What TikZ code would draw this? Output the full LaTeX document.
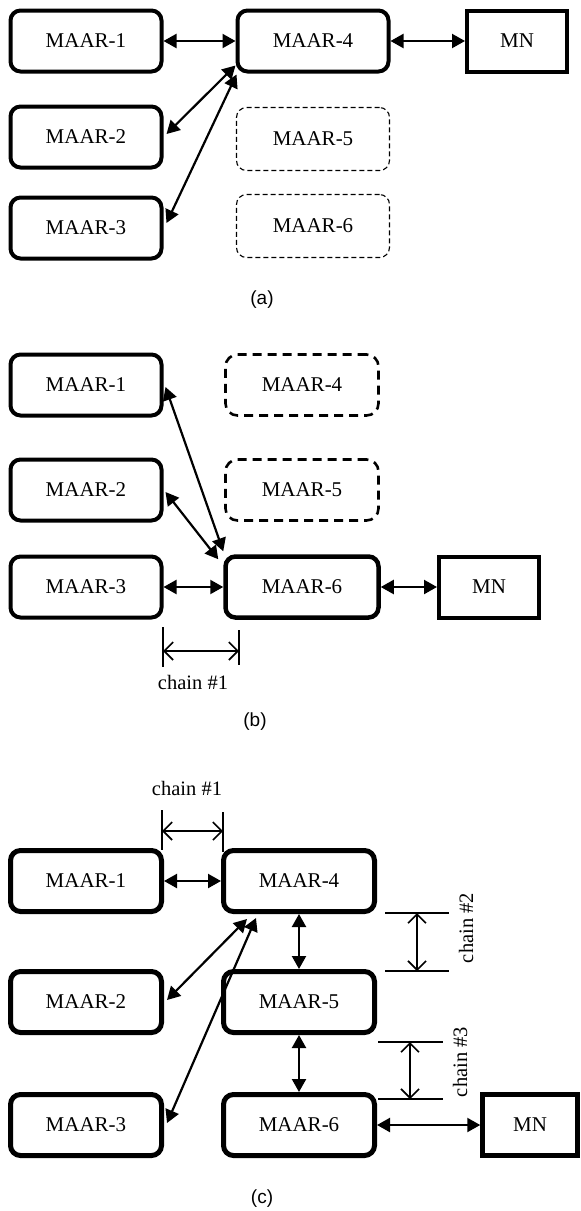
\documentclass[tikz,border=0pt]{standalone}
\usepackage{fontspec}
\setmainfont{Liberation Serif}
\newfontfamily\capfont{Liberation Sans}
\usetikzlibrary{arrows.meta,calc}
\begin{document}
\begin{tikzpicture}[x=1pt,y=-1pt,
  lbl/.style={font=\fontsize{21}{24}\selectfont},
  box/.style={draw, line width=4pt, rounded corners=10pt, minimum width=151pt, minimum height=61pt, inner sep=0pt, lbl},
  thickbox/.style={box, line width=5pt},
  thinbox/.style={draw, line width=1.1pt, dash pattern=on 5pt off 3pt, rounded corners=10pt, minimum width=153pt, minimum height=63pt, inner sep=0pt, lbl},
  dbox/.style={draw, line width=2.6pt, dash pattern=on 9pt off 6pt, rounded corners=12pt, minimum width=153pt, minimum height=61pt, inner sep=0pt, lbl},
  mnbox/.style={draw, line width=4pt, minimum width=100pt, minimum height=61pt, inner sep=0pt, lbl},
  link/.style={line width=2.2pt, {Triangle[length=13pt,width=14pt]}-{Triangle[length=13pt,width=14pt]}},
  dimline/.style={line width=2pt},
  dimarrow/.style={line width=1.6pt, {Straight Barb[length=9pt,width=18pt,line width=1.6pt]}-{Straight Barb[length=9pt,width=18pt,line width=1.6pt]}},
  chainlbl/.style={font=\fontsize{20.5}{23}\selectfont},
  captxt/.style={font=\capfont\fontsize{19}{22}\selectfont}
]
\useasboundingbox (0,0) rectangle (581,1211);

% ---------------- (a) ----------------
\node[box] (a1) at (86,41) {MAAR-1};
\node[box] (a2) at (86,137) {MAAR-2};
\node[box] (a3) at (86,228) {MAAR-3};
\node[box] (a4) at (313,41) {MAAR-4};
\node[thinbox] (a5) at (313,139) {MAAR-5};
\node[thinbox] (a6) at (313,226) {MAAR-6};
\node[mnbox] (amn) at (517,41) {MN};
\draw[link] (a1.east) -- (a4.west);
\draw[link] (a4.east) -- (amn.west);
\draw[link] ($(a2.east)+(3,-3)$) -- ($(a4.south west)+(0,-8)$);
\draw[link] ($(a3.east)+(3,-5)$) -- ($(a4.south west)+(1,1)$);
\node[captxt] (capa) at (262,300) {(a)};

% ---------------- (b) ----------------
\node[box] (b1) at (86,385) {MAAR-1};
\node[box] (b2) at (86,490) {MAAR-2};
\node[box] (b3) at (86,587) {MAAR-3};
\node[dbox] (b4) at (302,385) {MAAR-4};
\node[dbox] (b5) at (302,490) {MAAR-5};
\node[box, line width=4.5pt, minimum width=153pt] (b6) at (302,587) {MAAR-6};
\node[mnbox, minimum width=100pt] (bmn) at (489,587) {MN};
\draw[link] (b3.east) -- (b6.west);
\draw[link] (b6.east) -- (bmn.west);
\draw[link] ($(b1.east)+(2,2)$) -- ($(b6.north west)+(0,-3)$);
\draw[link] ($(b2.east)+(2,2)$) -- ($(b6.north west)+(-5,5)$);
\coordinate (bl1) at (163,627);
\coordinate (bl2) at (163,667);
\coordinate (br1) at (239,630);
\coordinate (br2) at (239,665);
\draw[dimline] (bl1) -- (bl2);
\draw[dimline] (br1) -- (br2);
\draw[dimarrow] (163,651) -- (239,651);
\node[chainlbl] (bch) at (193,682) {chain \#1};
\node[captxt] (capb) at (255,722) {(b)};

% ---------------- (c) ----------------
\node[thickbox] (c1) at (86,881) {MAAR-1};
\node[thickbox] (c2) at (86,1002) {MAAR-2};
\node[thickbox] (c3) at (86,1125) {MAAR-3};
\node[thickbox] (c4) at (299,881) {MAAR-4};
\node[thickbox] (c5) at (299,1002) {MAAR-5};
\node[thickbox] (c6) at (299,1125) {MAAR-6};
\node[mnbox, line width=4.5pt, minimum width=95pt] (cmn) at (530,1125) {MN};
\draw[link] (c1.east) -- (c4.west);
\draw[link] (c4.south) -- (c5.north);
\draw[link] (c5.south) -- (c6.north);
\draw[link] (c6.east) -- (cmn.west);
\draw[link] ($(c2.east)+(3,-2)$) -- ($(c4.south west)+(26,5)$);
\draw[link] ($(c3.east)+(3,-2)$) -- ($(c4.south west)+(35,4)$);
% chain #1
\coordinate (cl1) at (162,810);
\coordinate (cl2) at (162,850);
\coordinate (cr1) at (223,812);
\coordinate (cr2) at (223,852);
\draw[dimline] (cl1) -- (cl2);
\draw[dimline] (cr1) -- (cr2);
\draw[dimarrow] (162,831) -- (223,831);
\node[chainlbl] (cch1) at (187,788) {chain \#1};
% chain #2
\coordinate (t2a) at (385,913);
\coordinate (t2b) at (449,913);
\coordinate (u2a) at (385,971);
\coordinate (u2b) at (449,971);
\draw[dimline] (t2a) -- (t2b);
\draw[dimline] (u2a) -- (u2b);
\draw[dimarrow] (417,913) -- (417,971);
\node[chainlbl, rotate=90] (cch2) at (466,928) {chain \#2};
% chain #3
\coordinate (t3a) at (378,1042);
\coordinate (t3b) at (443,1042);
\coordinate (u3a) at (378,1099);
\coordinate (u3b) at (443,1099);
\draw[dimline] (t3a) -- (t3b);
\draw[dimline] (u3a) -- (u3b);
\draw[dimarrow] (410,1042) -- (410,1099);
\node[chainlbl, rotate=90] (cch3) at (460,1062) {chain \#3};
\node[captxt] (capc) at (262,1199) {(c)};
\end{tikzpicture}
\end{document}
